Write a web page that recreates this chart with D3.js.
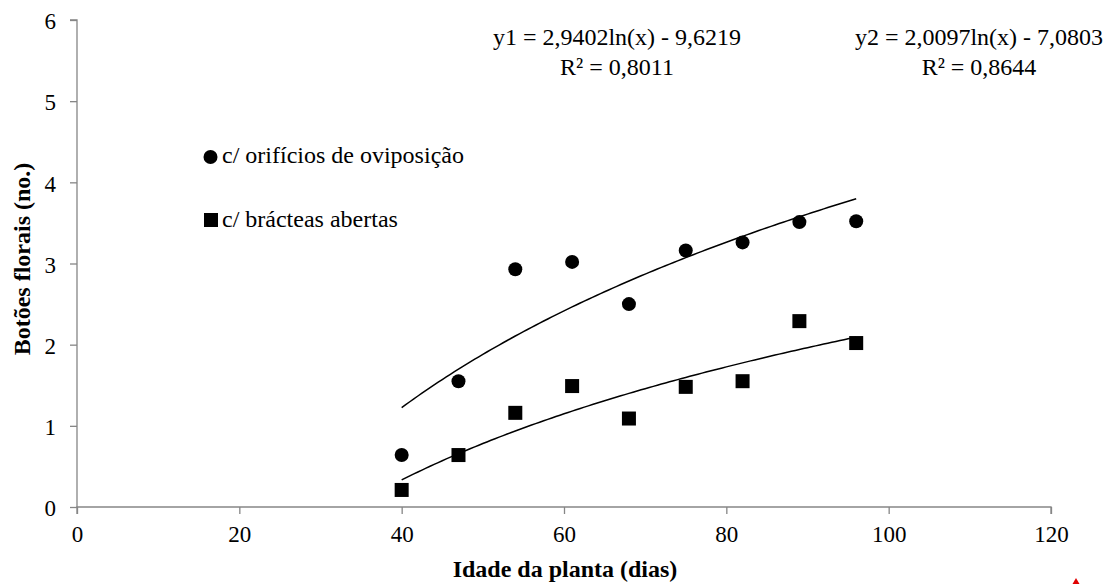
<!DOCTYPE html>
<html>
<head>
<meta charset="utf-8">
<script src="https://cdn.jsdelivr.net/npm/d3@7"></script>
<style>
  html, body { margin: 0; padding: 0; background: #fff; }
  svg { display: block; }
</style>
</head>
<body>
<svg id="chart" width="1110" height="584"></svg>
<script>
// Plant age (days) at each evaluation
const ages = [40, 47, 54, 61, 68, 75, 82, 89, 96];
// Flower buds with oviposition holes
const withHoles = [0.64, 1.55, 2.93, 3.02, 2.50, 3.16, 3.26, 3.51, 3.52];
// Flower buds with open bracts
const withOpenBracts = [0.21, 0.64, 1.16, 1.49, 1.09, 1.48, 1.55, 2.29, 2.02];
// Logarithmic fits: y = a ln(x) + b
const fitHoles = { a: 2.9402, b: -9.6219, r2: "0,8011", label: "y1 = 2,9402ln(x) - 9,6219" };
const fitBracts = { a: 2.0097, b: -7.0803, r2: "0,8644", label: "y2 = 2,0097ln(x) - 7,0803" };
const xTicks = [0, 20, 40, 60, 80, 100, 120];
const yTicks = [0, 1, 2, 3, 4, 5, 6];
const seriesNames = ["c/ orifícios de oviposição", "c/ brácteas abertas"];

const FONT = "'Liberation Serif', 'Times New Roman', serif";
const svg = d3.select("#chart");
const plotLeft = 77, plotRight = 1051, plotTop = 20, plotBottom = 507;
const x = d3.scaleLinear().domain([0, 120]).range([plotLeft, plotRight]);
const y = d3.scaleLinear().domain([0, 6]).range([plotBottom, plotTop]);
const axisColor = "#868686";

function label(sel, size, weight) {
  return sel.style("font-family", FONT).style("font-size", size + "px")
    .style("font-weight", weight || "normal").attr("fill", "#000");
}

// Axes
const xAxis = svg.append("g").attr("transform", `translate(0,${plotBottom})`)
  .call(d3.axisBottom(x).tickValues(xTicks).tickSize(7).tickPadding(13).tickFormat(d3.format("d")));
const yAxis = svg.append("g").attr("transform", `translate(${plotLeft},0)`)
  .call(d3.axisLeft(y).tickValues(yTicks).tickSize(7).tickPadding(14).tickFormat(d3.format("d")));
[xAxis, yAxis].forEach(g => {
  g.select(".domain").attr("stroke", axisColor).attr("stroke-width", 1.3);
  g.selectAll(".tick line").attr("stroke", axisColor).attr("stroke-width", 1.3);
  label(g.selectAll(".tick text"), 23);
});
yAxis.selectAll(".tick text").attr("dy", "0.38em");
xAxis.selectAll(".tick text").attr("dy", "0.66em");
yAxis.select(".domain").attr("d", `M-7,${plotTop}H0V${plotBottom}`);
xAxis.select(".domain").attr("d", `M${plotLeft},7V0H${plotRight}V7`);

// Trend lines
const xs = d3.range(40, 96.01, 0.5);
const line = d3.line().x(d => x(d[0])).y(d => y(d[1]));
[fitHoles, fitBracts].forEach(f => {
  svg.append("path")
    .attr("d", line(xs.map(v => [v, f.a * Math.log(v) + f.b])))
    .attr("fill", "none").attr("stroke", "#000").attr("stroke-width", 1.5);
});

// Points
const s = 14;
svg.append("g").selectAll("circle").data(ages).join("circle")
  .attr("cx", d => x(d)).attr("cy", (d, i) => y(withHoles[i])).attr("r", 7).attr("fill", "#000");
svg.append("g").selectAll("rect").data(ages).join("rect")
  .attr("x", d => x(d) - s / 2).attr("y", (d, i) => y(withOpenBracts[i]) - s / 2)
  .attr("width", s).attr("height", s).attr("fill", "#000");

// Legend
svg.append("circle").attr("cx", 210.5).attr("cy", 157).attr("r", 7).attr("fill", "#000");
label(svg.append("text").attr("x", 222).attr("y", 163), 24).text(seriesNames[0]);
svg.append("rect").attr("x", 204).attr("y", 213).attr("width", 14).attr("height", 14).attr("fill", "#000");
label(svg.append("text").attr("x", 222).attr("y", 227), 24).text(seriesNames[1]);

// Equation labels
[[fitHoles, 617], [fitBracts, 979]].forEach(([f, cx]) => {
  label(svg.append("text").attr("x", cx).attr("y", 45).attr("text-anchor", "middle"), 24).text(f.label);
  label(svg.append("text").attr("x", cx).attr("y", 75).attr("text-anchor", "middle"), 24).text("R² = " + f.r2);
});

// Axis titles
label(svg.append("text").attr("x", 565).attr("y", 577).attr("text-anchor", "middle"), 24, "bold")
  .text("Idade da planta (dias)");
label(svg.append("text").attr("transform", "translate(30,259) rotate(-90)").attr("text-anchor", "middle"), 24, "bold")
  .text("Botões florais (no.)");

// Small red corner marker
svg.append("path").attr("d", "M1076,578L1079.5,584L1072.5,584Z").attr("fill", "#e00000");
</script>
</body>
</html>
